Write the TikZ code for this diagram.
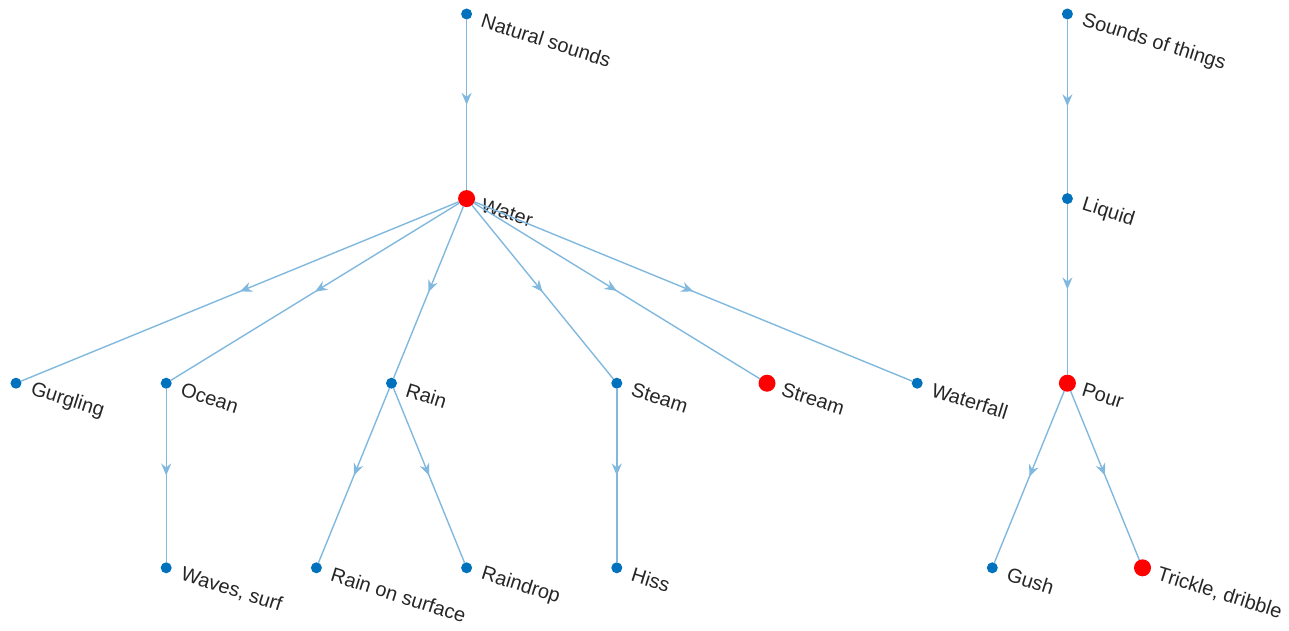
\documentclass[tikz,border=0pt]{standalone}
\usepackage{fontspec}
\setmainfont{Liberation Sans}
\usepackage{xcolor}
\usepackage{tikz}
\usetikzlibrary{arrows.meta,decorations.markings}
\definecolor{nodeblue}{rgb}{0,0.447,0.741}
\definecolor{edgeblue}{rgb}{0.5,0.72,0.87}
\definecolor{labelgray}{rgb}{0.15,0.15,0.15}

\begin{document}
\begin{tikzpicture}[x=37.55pt,y=92.3pt,
    bdot/.style={circle,fill=nodeblue,minimum size=5.5pt,inner sep=0pt,outer sep=0pt},
    rdot/.style={circle,fill=red,minimum size=8.5pt,inner sep=0pt,outer sep=0pt},
    lab/.style={anchor=west,rotate=-17.5,inner sep=0pt,text=labelgray,font=\fontsize{10}{12}\selectfont},
    edge/.style={draw=edgeblue,line width=0.7pt,postaction={decorate},
        decoration={markings,mark=at position 0.5 with {\arrow{Stealth[length=6pt,width=5pt,inset=2pt]}}}}]
    \useasboundingbox (-8pt,7pt) rectangle (636.5pt,-308.5pt);
    % left tree
    \node[bdot] (nat) at (6,0) {};
    \node[lab] (nat-t) at ([xshift=7.5pt,yshift=-3pt]nat.center) {Natural sounds};
    \node[rdot] (water) at (6,-1) {};
    \node[lab] (water-t) at ([xshift=7.5pt,yshift=-3pt]water.center) {Water};
    \node[bdot] (gurg) at (0,-2) {};
    \node[lab] (gurg-t) at ([xshift=7.5pt,yshift=-3pt]gurg.center) {Gurgling};
    \node[bdot] (ocean) at (2,-2) {};
    \node[lab] (ocean-t) at ([xshift=7.5pt,yshift=-3pt]ocean.center) {Ocean};
    \node[bdot] (rain) at (5,-2) {};
    \node[lab] (rain-t) at ([xshift=7.5pt,yshift=-3pt]rain.center) {Rain};
    \node[bdot] (steam) at (8,-2) {};
    \node[lab] (steam-t) at ([xshift=7.5pt,yshift=-3pt]steam.center) {Steam};
    \node[rdot] (stream) at (10,-2) {};
    \node[lab] (stream-t) at ([xshift=7.5pt,yshift=-3pt]stream.center) {Stream};
    \node[bdot] (fall) at (12,-2) {};
    \node[lab] (fall-t) at ([xshift=7.5pt,yshift=-3pt]fall.center) {Waterfall};
    \node[bdot] (waves) at (2,-3) {};
    \node[lab] (waves-t) at ([xshift=7.5pt,yshift=-3pt]waves.center) {Waves, surf};
    \node[bdot] (rsurf) at (4,-3) {};
    \node[lab] (rsurf-t) at ([xshift=7.5pt,yshift=-3pt]rsurf.center) {Rain on surface};
    \node[bdot] (drop) at (6,-3) {};
    \node[lab] (drop-t) at ([xshift=7.5pt,yshift=-3pt]drop.center) {Raindrop};
    \node[bdot] (hiss) at (8,-3) {};
    \node[lab] (hiss-t) at ([xshift=7.5pt,yshift=-3pt]hiss.center) {Hiss};
    % right tree
    \node[bdot] (things) at (14,0) {};
    \node[lab] (things-t) at ([xshift=7.5pt,yshift=-3pt]things.center) {Sounds of things};
    \node[bdot] (liquid) at (14,-1) {};
    \node[lab] (liquid-t) at ([xshift=7.5pt,yshift=-3pt]liquid.center) {Liquid};
    \node[rdot] (pour) at (14,-2) {};
    \node[lab] (pour-t) at ([xshift=7.5pt,yshift=-3pt]pour.center) {Pour};
    \node[bdot] (gush) at (13,-3) {};
    \node[lab] (gush-t) at ([xshift=7.5pt,yshift=-3pt]gush.center) {Gush};
    \node[rdot] (trickle) at (15,-3) {};
    \node[lab] (trickle-t) at ([xshift=7.5pt,yshift=-3pt]trickle.center) {Trickle, dribble};
    % edges
    \draw[edge] (nat) -- (water);
    \draw[edge] (water) -- (gurg);
    \draw[edge] (water) -- (ocean);
    \draw[edge] (water) -- (rain);
    \draw[edge] (water) -- (steam);
    \draw[edge] (water) -- (stream);
    \draw[edge] (water) -- (fall);
    \draw[edge] (ocean) -- (waves);
    \draw[edge] (rain) -- (rsurf);
    \draw[edge] (rain) -- (drop);
    \draw[edge] (steam) -- (hiss);
    \draw[edge] (things) -- (liquid);
    \draw[edge] (liquid) -- (pour);
    \draw[edge] (pour) -- (gush);
    \draw[edge] (pour) -- (trickle);
\end{tikzpicture}
\end{document}
